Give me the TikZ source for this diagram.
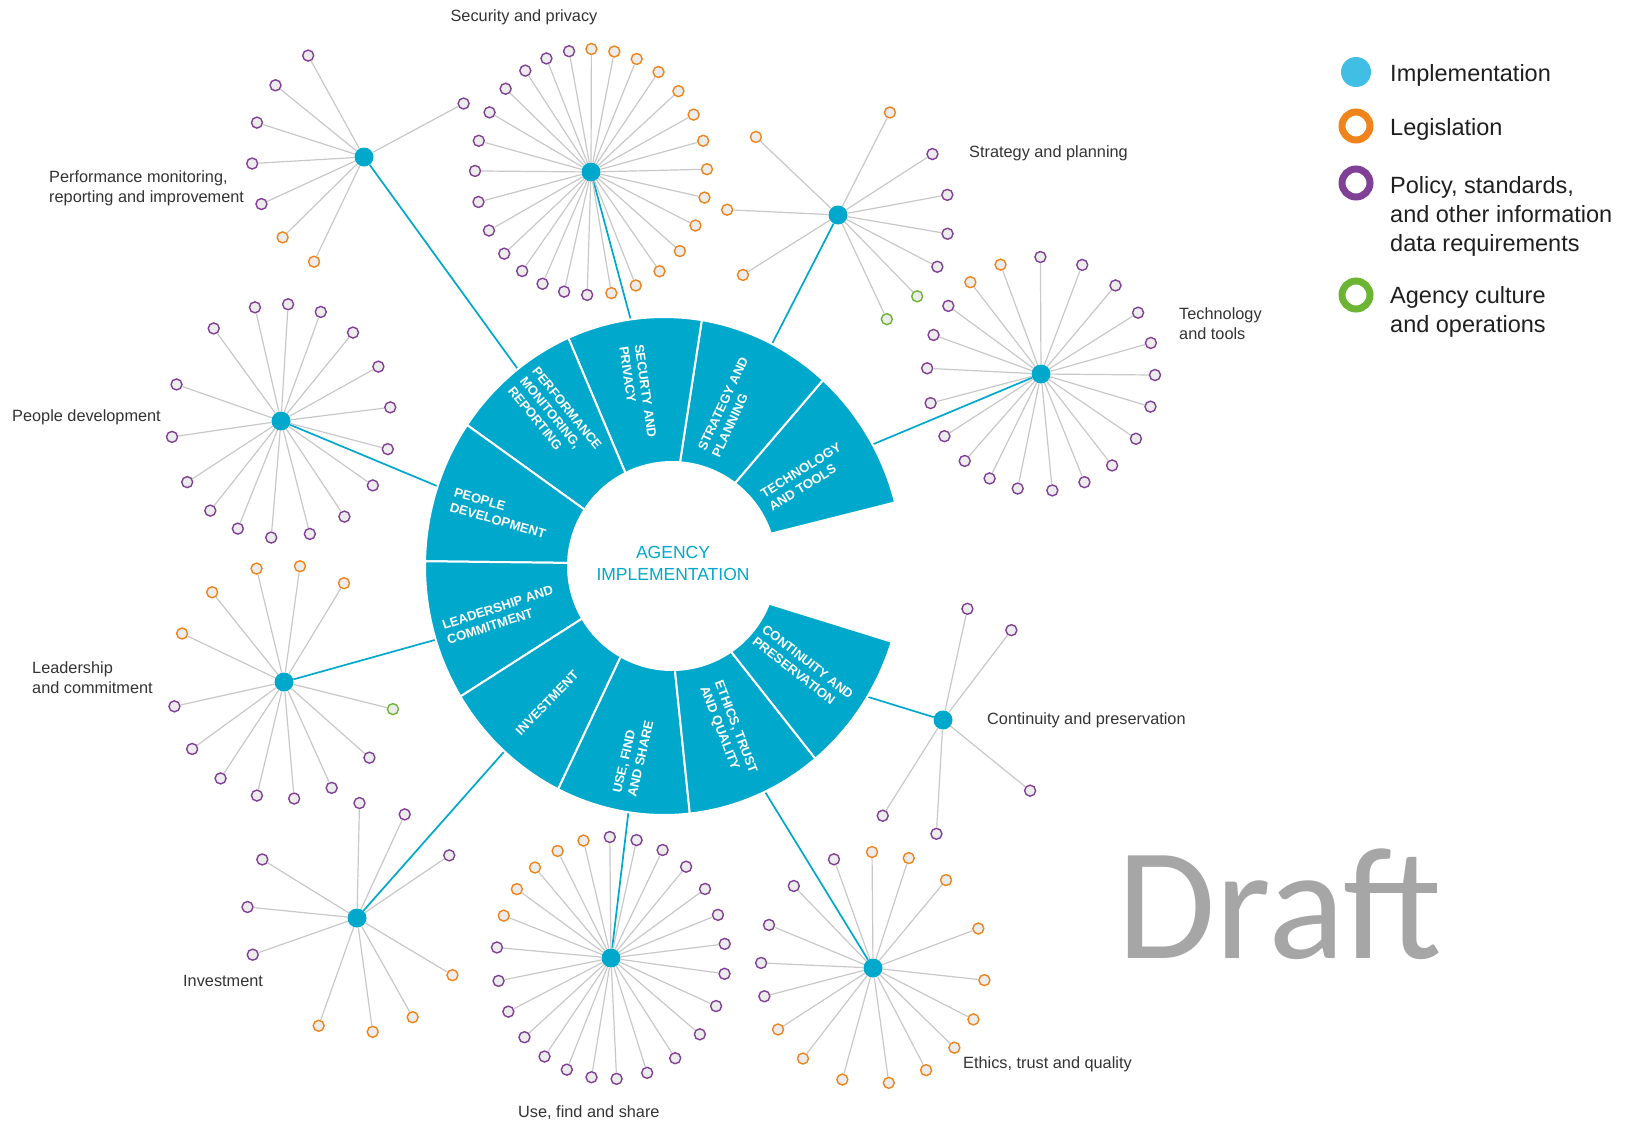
\documentclass[tikz,border=0pt]{standalone}
\usepackage{fontspec}
\setmainfont{Liberation Sans}
\newfontfamily\draftfont{Carlito}
\usetikzlibrary{positioning}

\definecolor{wheelblue}{RGB}{0,168,204}
\definecolor{legblue}{RGB}{64,190,228}
\definecolor{orng}{RGB}{240,132,28}
\definecolor{purp}{RGB}{128,64,150}
\definecolor{grn}{RGB}{108,180,52}
\definecolor{leafgray}{RGB}{236,236,236}
\definecolor{spokegray}{RGB}{200,200,200}
\definecolor{labelgray}{RGB}{51,51,51}
\definecolor{draftgray}{RGB}{166,166,166}

\tikzset{
  hub/.style={circle, fill=wheelblue, minimum size=19pt, inner sep=0pt},
  leaf/.style={circle, draw=#1, fill=leafgray, line width=1.4pt, minimum size=11pt, inner sep=0pt},
  spoke/.style={draw=spokegray, line width=1.2pt},
  link/.style={draw=wheelblue, line width=1.7pt},
  segment/.style={fill=wheelblue, draw=white, line width=2pt},
  segtext/.style={text=white, font=\bfseries\fontsize{13}{15.5}\selectfont, align=left, inner sep=0pt},
  hubname/.style={text=labelgray, font=\fontsize{16.3}{20.5}\selectfont, align=left, inner sep=0pt},
  legring/.style={circle, draw=#1, line width=7pt, minimum size=28pt, inner sep=0pt},
  legtext/.style={text=black!88, font=\fontsize{23.5}{29}\selectfont, align=left, inner sep=0pt}
}

% leaves round a hub: name, x radius, y radius, list of angle/colour
\newcommand{\hubleaves}[4]{%
  \foreach \a/\col [count=\i] in {#4} {
    \node[leaf=\col] (#1-\i) at ([shift={(\a:#2 and #3)}]#1) {};
    \draw[spoke] (#1) -- (#1-\i);
  }%
}

\begin{document}
\begin{tikzpicture}[x=1pt, y=1pt]
\useasboundingbox (0,0) rectangle (1632,-1122);

% hubs
\node[hub] (perf) at (364,-157) {};
\node[hub] (sec) at (591,-172) {};
\node[hub] (strat) at (838,-215) {};
\node[hub] (tech) at (1041,-374) {};
\node[hub] (ppl) at (281,-421) {};
\node[hub] (lead) at (284,-682) {};
\node[hub] (inv) at (357,-918) {};
\node[hub] (use) at (611,-958) {};
\node[hub] (eth) at (873,-968) {};
\node[hub] (cont) at (943,-720) {};

% wheel
\begin{scope}[shift={(672,-566)}]
  \coordinate (w-perf) at (128.3:225);
  \coordinate (w-sec) at (98.9:225);
  \coordinate (w-strat) at (66:225);
  \coordinate (w-tech) at (32:215);
  \coordinate (w-ppl) at (161.6:225);
  \coordinate (w-lead) at (197.5:225);
  \coordinate (w-inv) at (227.8:225);
  \coordinate (w-use) at (259.6:225);
  \coordinate (w-eth) at (291.6:225);
  \coordinate (w-cont) at (324.6:215);
  \foreach \h in {perf,sec,strat,tech,ppl,lead,inv,use,eth,cont}
    \draw[link] (w-\h) -- (\h);
  % inner edge / outer edge angles of each segment
  \foreach \p/\q/\s/\t in {18.1/52.8/14.8/48.3, 52.8/85.6/48.3/80.9, 85.6/116.6/80.9/113.6,
      116.6/147.2/113.6/145.5, 147.2/178.3/145.5/178.9, 178.3/210.3/178.9/211.6,
      210.3/240.5/211.6/243.7, 240.5/271.6/243.7/276.2, 271.6/304.6/276.2/309.3,
      304.6/338.8/309.3/342.3}
    \filldraw[segment] (\p:104) arc[start angle=\p, end angle=\q, radius=104]
      -- ([shift={(\t:239 and 249)}]-8,0) arc[start angle=\t, end angle=\s, x radius=239, y radius=249] -- cycle;
\end{scope}

\node[segtext, rotate=32] (s-tech) at (805,-477) {TECHNOLOGY\\AND TOOLS};
\node[segtext, rotate=65] (s-strat) at (730,-407) {STRATEGY AND\\PLANNING};
\node[segtext, rotate=-82] (s-sec) at (638,-392) {SECURTY AND\\PRIVACY};
\node[segtext, rotate=-51] (s-perf) at (555,-418) {PERFORMANCE\\MONITORING,\\REPORTING};
\node[segtext, rotate=-16] (s-ppl) at (500,-513) {PEOPLE\\DEVELOPMENT};
\node[segtext, rotate=18] (s-lead) at (500,-615) {LEADERSHIP AND\\COMMITMENT};
\node[segtext, rotate=46] (s-inv) at (547,-703) {INVESTMENT};
\node[segtext, rotate=77] (s-use) at (633,-757) {USE, FIND\\AND SHARE};
\node[segtext, rotate=-69] (s-eth) at (728,-730) {ETHICS, TRUST\\AND QUALITY};
\node[segtext, rotate=-38] (s-cont) at (803,-668) {CONTINUITY AND\\PRESERVATION};

\node[text=wheelblue, font=\fontsize{17.5}{22}\selectfont, align=center] (agency) at (673,-563) {AGENCY\\IMPLEMENTATION};

% leaves
\hubleaves{perf}{112}{117}{119.9/purp,142.2/purp,162.9/purp,183.2/purp,203.7/purp,223.4/orng,243.5/orng,27.2/purp}
\hubleaves{sec}{116}{123}{89.8/orng,78.4/orng,66.8/orng,54.4/orng,41.1/orng,27.8/orng,14.7/orng,1.3/orng,-12/orng,-25.8/orng,-40/orng,-53.8/orng,-67.3/orng,-79.9/orng,-91.9/purp,-103.4/purp,-114.7/purp,-126.4/purp,-138.4/purp,-151.6/purp,-165.9/purp,179.5/purp,165.3/purp,151/purp,137.4/purp,124.5/purp,112.6/purp,100.9/purp}
\hubleaves{strat}{111}{116}{62.1/orng,137.7/orng,177.4/orng,211.1/orng,31.7/purp,10/purp,-9.3/purp,-26.5/purp,-44.5/grn,-63.9/grn}
\hubleaves{tech}{114}{117}{128.3/orng,110.8/orng,90.3/purp,68.8/purp,49.2/purp,31.6/purp,15.4/purp,-0.5/purp,-16.2/purp,-33.6/purp,-51.4/purp,-67.6/purp,-84.3/purp,-101.8/purp,-116.8/purp,-132/purp,-147.9/purp,-165.6/purp,177.2/purp,160.5/purp,144.4/purp}
\hubleaves{ppl}{110}{117}{103.7/purp,86.3/purp,68.8/purp,49.1/purp,27.7/purp,6.7/purp,-13.9/purp,-33.4/purp,-54.8/purp,-74.8/purp,-95.1/purp,-113.1/purp,-130/purp,-148.5/purp,-172.2/purp,161.8/purp,127.7/purp}
\hubleaves{lead}{112}{117}{104.2/orng,81.8/orng,57.6/orng,129.9/orng,155.5/orng,192/purp,214.9/purp,235.5/purp,256/purp,275.2/purp,295.2/purp,319.7/purp,346.6/grn}
\hubleaves{inv}{110}{115}{88.7/purp,64.3/purp,33/purp,149.4/purp,174.5/purp,198.6/purp,249.6/orng,278.2/orng,300.4/orng,330.2/orng}
\hubleaves{use}{114.5}{121}{103.9/orng,117.8/orng,131.6/orng,145.3/orng,159.5/orng,90.6/purp,77.1/purp,63.2/purp,49/purp,34.8/purp,20.9/purp,6.7/purp,-7.5/purp,-23.4/purp,-39.1/purp,-55.9/purp,-71.6/purp,-87.2/purp,-99.8/purp,-112.7/purp,-125.5/purp,-139.1/purp,-153.7/purp,-169.1/purp,175/purp}
\hubleaves{eth}{112}{116}{110.4/purp,135/purp,158.2/purp,177.5/purp,194.1/purp,90.5/orng,71.4/orng,49.3/orng,19.9/orng,-6/orng,-26.3/orng,-43.4/orng,-61.7/orng,-81.9/orng,-105.9/orng,-128.7/orng,-148/orng}
\hubleaves{cont}{111}{114}{77.3/purp,52/purp,-38.3/purp,-93.4/purp,-122.9/purp}

% hub names
\node[hubname, anchor=base] (n-sec) at (524,-21) {Security and privacy};
\node[hubname, anchor=base west] (n-strat) at (969,-157) {Strategy and planning};
\node[hubname, anchor=north west] (n-tech) at (1179,-307) {Technology\\and tools};
\node[hubname, anchor=north west] (n-perf) at (49,-170) {Performance monitoring,\\reporting and improvement};
\node[hubname, anchor=base west] (n-ppl) at (12,-421) {People development};
\node[hubname, anchor=north west] (n-lead) at (32,-661) {Leadership\\and commitment};
\node[hubname, anchor=base west] (n-inv) at (183,-986) {Investment};
\node[hubname, anchor=base west] (n-use) at (518,-1117) {Use, find and share};
\node[hubname, anchor=base west] (n-eth) at (963,-1068) {Ethics, trust and quality};
\node[hubname, anchor=base west] (n-cont) at (987,-724) {Continuity and preservation};

% legend
\node[circle, fill=legblue, minimum size=30pt, inner sep=0pt] (lg-imp) at (1356,-72) {};
\node[legring=orng] (lg-leg) at (1356,-126) {};
\node[legring=purp] (lg-pol) at (1356,-183) {};
\node[legring=grn] (lg-cul) at (1356,-295) {};
\node[legtext, anchor=base west] (lt-imp) at (1390,-81) {Implementation};
\node[legtext, anchor=base west] (lt-leg) at (1390,-135) {Legislation};
\node[legtext, anchor=north west] (lt-pol) at (1390,-176) {Policy, standards,\\and other information\\data requirements};
\node[legtext, anchor=north west] (lt-cul) at (1390,-286) {Agency culture\\and operations};

\node[text=draftgray, font=\draftfont\fontsize{160}{160}\selectfont, anchor=base west, inner sep=0pt] (draft) at (1117,-958) {Draft};
\end{tikzpicture}
\end{document}
